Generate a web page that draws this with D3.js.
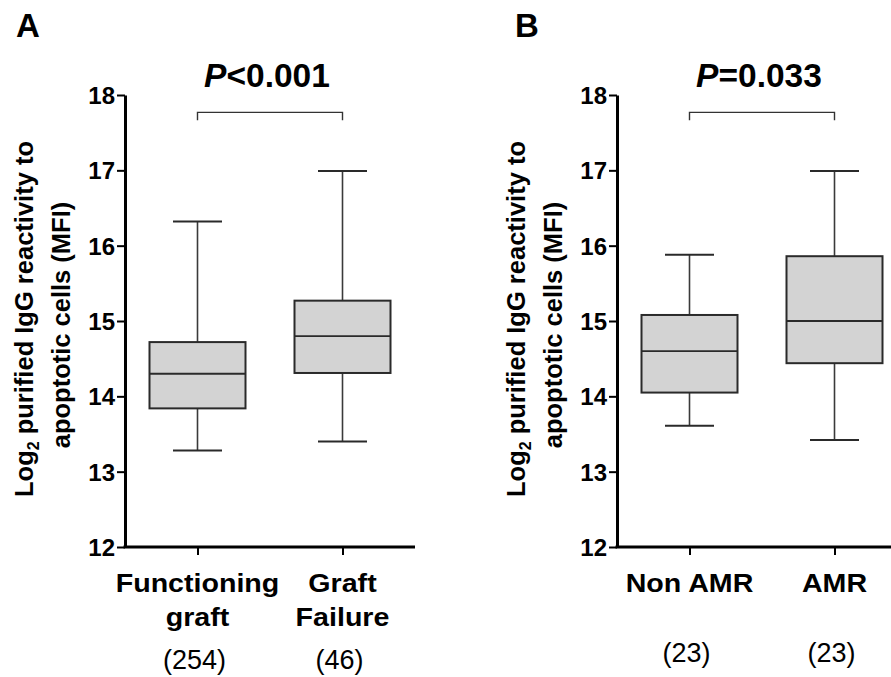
<!DOCTYPE html>
<html>
<head>
<meta charset="utf-8">
<script src="https://cdn.jsdelivr.net/npm/d3@7"></script>
<style>
  html, body { margin: 0; padding: 0; background: #fff; }
  svg { display: block; font-family: Arial, "Liberation Sans", sans-serif; }
</style>
</head>
<body>
<svg id="chart" width="891" height="677"></svg>
<script>
// ---------- DATA ----------
const panelLetters = ["A", "B"];
const pValueText = ["<0.001", "=0.033"];           // prefixed by italic "P"
const categoriesA = ["Functioning graft", "Graft Failure"];
const categoriesB = ["Non AMR", "AMR"];
const labelLinesA = [["Functioning", "graft"], ["Graft", "Failure"]];
const labelLinesB = [["Non AMR"], ["AMR"]];
const countsA = ["(254)", "(46)"];
const countsB = ["(23)", "(23)"];

const minA = [13.28, 13.40];
const q1A  = [13.84, 14.31];
const medA = [14.30, 14.80];
const q3A  = [14.72, 15.27];
const maxA = [16.32, 16.99];

const minB = [13.61, 13.42];
const q1B  = [14.05, 14.44];
const medB = [14.60, 15.00];
const q3B  = [15.08, 15.86];
const maxB = [15.88, 16.99];

const yTicks = [12, 13, 14, 15, 16, 17, 18];
const yDomain = [12, 18];
const yTitleLine1 = "Log";
const yTitleSub = "2";
const yTitleLine1Rest = " purified IgG reactivity to";
const yTitleLine2 = "apoptotic cells (MFI)";

// ---------- LAYOUT ----------
const svg = d3.select("#chart");
const plotTop = 95, plotBottom = 547, plotWidth = 290;
const boxHalf = 48, capHalf = 24.5;
const stretch = 1.1;

const panels = [
  { letter: panelLetters[0], p: pValueText[0], cats: categoriesA, lines: labelLinesA, counts: countsA,
    min: minA, q1: q1A, med: medA, q3: q3A, max: maxA, x0: 125, letterX: 16, countY: 669 },
  { letter: panelLetters[1], p: pValueText[1], cats: categoriesB, lines: labelLinesB, counts: countsB,
    min: minB, q1: q1B, med: medB, q3: q3B, max: maxB, x0: 617, letterX: 515, countY: 662 }
];

const y = d3.scaleLinear().domain(yDomain).range([plotBottom, plotTop]);

panels.forEach(pn => {
  const g = svg.append("g").attr("transform", `translate(${pn.x0},0)`);
  const x = d3.scalePoint().domain(pn.cats).range([0, plotWidth]).padding(0.5);

  // panel letter
  svg.append("text").attr("x", pn.letterX).attr("y", 37)
    .attr("font-size", 33).attr("font-weight", "bold").attr("fill", "#000")
    .text(pn.letter);

  // boxes
  const data = pn.cats.map((c, i) => ({ c, min: pn.min[i], q1: pn.q1[i], med: pn.med[i], q3: pn.q3[i], max: pn.max[i] }));
  const bg = g.selectAll("g.box").data(data).join("g").attr("class", "box")
    .attr("transform", d => `translate(${x(d.c)},0)`);

  bg.append("line").attr("x1", 0).attr("x2", 0)
    .attr("y1", d => y(d.max)).attr("y2", d => y(d.q3))
    .attr("stroke", "#3a3a3a").attr("stroke-width", 1.6);
  bg.append("line").attr("x1", 0).attr("x2", 0)
    .attr("y1", d => y(d.q1)).attr("y2", d => y(d.min))
    .attr("stroke", "#3a3a3a").attr("stroke-width", 1.6);
  bg.append("line").attr("x1", -capHalf).attr("x2", capHalf)
    .attr("y1", d => y(d.max)).attr("y2", d => y(d.max))
    .attr("stroke", "#2a2a2a").attr("stroke-width", 2);
  bg.append("line").attr("x1", -capHalf).attr("x2", capHalf)
    .attr("y1", d => y(d.min)).attr("y2", d => y(d.min))
    .attr("stroke", "#2a2a2a").attr("stroke-width", 2);
  bg.append("rect").attr("x", -boxHalf).attr("width", boxHalf * 2)
    .attr("y", d => y(d.q3)).attr("height", d => y(d.q1) - y(d.q3))
    .attr("fill", "#d3d3d3").attr("stroke", "#2a2a2a").attr("stroke-width", 2);
  bg.append("line").attr("x1", -boxHalf).attr("x2", boxHalf)
    .attr("y1", d => y(d.med)).attr("y2", d => y(d.med))
    .attr("stroke", "#2a2a2a").attr("stroke-width", 1.8);

  // y axis
  const ya = g.append("g").call(d3.axisLeft(y).tickValues(yTicks).tickFormat(d3.format("d"))
    .tickSizeInner(8).tickSizeOuter(0).tickPadding(2));
  ya.select(".domain").attr("stroke", "#000").attr("stroke-width", 3);
  ya.selectAll(".tick line").attr("stroke", "#000").attr("stroke-width", 2);
  ya.selectAll(".tick text").attr("font-size", 24).attr("font-weight", "bold")
    .attr("fill", "#000").attr("font-family", "Arial, 'Liberation Sans', sans-serif")
    .attr("dy", "0.36em");

  // x axis
  const xa = g.append("g").attr("transform", `translate(0,${plotBottom})`)
    .call(d3.axisBottom(x).tickSizeInner(8).tickSizeOuter(0).tickFormat(""));
  xa.select(".domain").attr("stroke", "#000").attr("stroke-width", 3)
    .attr("d", `M-1.5,0H${plotWidth}`);
  xa.selectAll(".tick line").attr("stroke", "#000").attr("stroke-width", 2);

  // category labels (slightly stretched horizontally, as in the reference)
  pn.cats.forEach((c, i) => {
    const lg = g.append("g").attr("transform", `translate(${x(c)},0) scale(${stretch},1)`);
    const t = lg.append("text").attr("x", 0).attr("y", 592)
      .attr("text-anchor", "middle").attr("font-size", 26).attr("font-weight", "bold").attr("fill", "#000");
    pn.lines[i].forEach((ln, j) => {
      t.append("tspan").attr("x", 0).attr("y", 592 + j * 34).text(ln);
    });
    g.append("text").attr("x", x(c) - 3).attr("y", pn.countY)
      .attr("text-anchor", "middle").attr("font-size", 27).attr("fill", "#000")
      .text(pn.counts[i]);
  });

  // significance bracket
  const bTop = y(17.77), drop = 8;
  const xl = x(pn.cats[0]), xr = x(pn.cats[1]);
  g.append("path").attr("d", `M${xl},${bTop + drop}V${bTop}H${xr}V${bTop + drop}`)
    .attr("fill", "none").attr("stroke", "#333").attr("stroke-width", 1.4);
  const pt = g.append("text").attr("x", (xl + xr) / 2 - 3).attr("y", 87)
    .attr("text-anchor", "middle").attr("font-size", 33.5).attr("font-weight", "bold").attr("fill", "#000");
  pt.append("tspan").attr("font-style", "italic").text("P");
  pt.append("tspan").text(pn.p);

  // y title
  const yt = g.append("text").attr("transform", `translate(-92,${(plotTop + plotBottom) / 2 - 2}) rotate(-90)`)
    .attr("text-anchor", "middle").attr("font-size", 25.5).attr("font-weight", "bold").attr("fill", "#000");
  yt.append("tspan").text(yTitleLine1);
  yt.append("tspan").attr("font-size", 16).attr("dy", 6).text(yTitleSub);
  yt.append("tspan").attr("dy", -6).text(yTitleLine1Rest);
  g.append("text").attr("transform", `translate(-55,${(plotTop + plotBottom) / 2 + 4}) rotate(-90)`)
    .attr("text-anchor", "middle").attr("font-size", 25.5).attr("font-weight", "bold").attr("fill", "#000")
    .text(yTitleLine2);
});
</script>
</body>
</html>
